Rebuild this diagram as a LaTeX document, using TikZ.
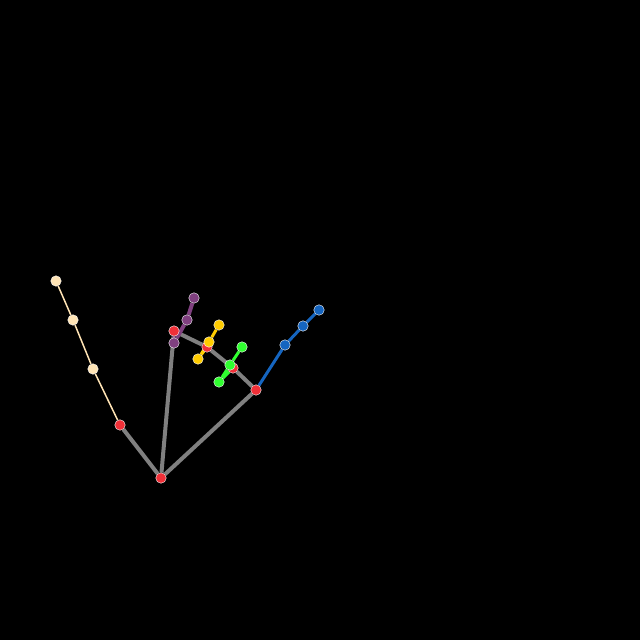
\documentclass[tikz,border=0pt]{standalone}
\definecolor{kpred}{RGB}{240,48,56}
\definecolor{kpcream}{RGB}{255,228,181}
\definecolor{kppurple}{RGB}{128,64,128}
\definecolor{kpyellow}{RGB}{255,204,0}
\definecolor{kpgreen}{RGB}{48,255,48}
\definecolor{kpblue}{RGB}{21,101,192}
\definecolor{kpgray}{RGB}{128,128,128}
\pgfdeclarelayer{bg}
\pgfdeclarelayer{bones}
\pgfsetlayers{bg,bones,main}

\begin{document}
\begin{tikzpicture}[x=1pt,y=-1pt,line cap=round,line join=round,
    joint/.style={circle,inner sep=0pt,minimum size=10.5pt,draw=white,line width=.4pt,fill=#1}]
  \begin{pgfonlayer}{bg}
    \fill[black] (0,0) rectangle (640,640);
  \end{pgfonlayer}

  % palm
  \node[joint=kpred] (w) at (161,478) {};
  \foreach \n/\x/\y in {t1/120/425,i1/174/331,m1/207/347,r1/233/368,p1/256/390}
    \node[joint=kpred] (\n) at (\x,\y) {};

  % fingers
  \foreach \n/\x/\y in {t2/93/369,t3/73/320,t4/56/281}
    \node[joint=kpcream] (\n) at (\x,\y) {};
  \foreach \n/\x/\y in {i2/174/343,i3/187/320,i4/194/298}
    \node[joint=kppurple] (\n) at (\x,\y) {};
  \foreach \n/\x/\y in {m2/198/359,m3/209/342,m4/219/325}
    \node[joint=kpyellow] (\n) at (\x,\y) {};
  \foreach \n/\x/\y in {r2/219/382,r3/230/365,r4/242/347}
    \node[joint=kpgreen] (\n) at (\x,\y) {};
  \foreach \n/\x/\y in {p2/285/345,p3/303/326,p4/319/310}
    \node[joint=kpblue] (\n) at (\x,\y) {};

  \begin{pgfonlayer}{bones}
    \draw[kpgray,line width=4pt] (t1) -- (w) -- (i1) -- (m1) -- (r1) -- (p1) -- (w);
    \draw[kpcream,line width=1.5pt] (t1) -- (t2) -- (t3) -- (t4);
    \draw[kppurple,line width=4pt] (i1) -- (i2) -- (i3) -- (i4);
    \draw[kpyellow,line width=3pt] (m1) -- (m2) -- (m3) -- (m4);
    \draw[kpgreen,line width=3pt] (r1) -- (r2) -- (r3) -- (r4);
    \draw[kpblue,line width=3pt] (p1) -- (p2) -- (p3) -- (p4);
  \end{pgfonlayer}
\end{tikzpicture}
\end{document}
